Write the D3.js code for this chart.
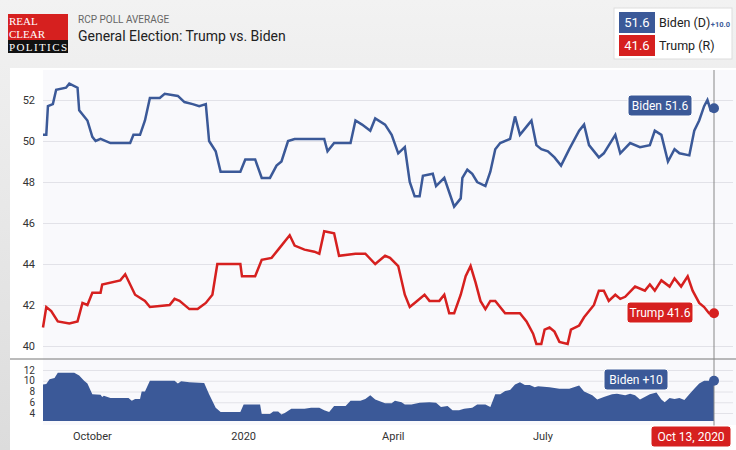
<!DOCTYPE html>
<html><head><meta charset="utf-8">
<script src="https://cdn.jsdelivr.net/npm/d3@7"></script>
<style>body{margin:0;font-family:Roboto,"Liberation Sans",sans-serif}</style>
</head><body><svg id="c" width="736" height="450"></svg>
<script>
// days after Sep 1 2019, value
var startDate = new Date(2019, 8, 1);
var endDate = new Date(2020, 9, 13);
var biden = [[0,50.3],[2,50.3],[3,51.7],[6,51.8],[8,52.5],[14,52.6],[16,52.8],[21,52.6],[22,51.5],[27,51],[30,50.2],[32,50],[35,50.1],[41,49.9],[53,49.9],[55,50.3],[59,50.3],[62,51],[65,52.1],[71,52.1],[74,52.3],[82,52.2],[86,51.9],[91,51.8],[95,51.7],[99,51.8],[101,50],[105,49.5],[108,48.5],[111,48.5],[120,48.5],[123,49.1],[129,49.1],[133,48.2],[138,48.2],[142,48.8],[145,49],[149,50],[153,50.1],[171,50.1],[173,49.5],[177,49.9],[187,49.9],[190,51],[194,50.8],[199,50.5],[202,51.1],[208,50.8],[212,50.3],[216,49.4],[220,49.7],[223,48],[226,47.3],[229,47.3],[231,48.3],[237,48.4],[239,47.8],[244,48.2],[247,47.5],[250,46.8],[254,47.2],[255,48.2],[258,48.6],[261,48.4],[264,48],[269,47.8],[272,48.5],[275,49.6],[278,49.9],[284,50.1],[287,51.2],[290,50.3],[295,50.8],[297,51],[300,49.8],[303,49.6],[307,49.5],[311,49.2],[315,48.8],[320,49.6],[326,50.5],[329,50.8],[332,49.8],[338,49.2],[341,49.4],[348,50.3],[351,49.4],[357,49.9],[363,49.7],[369,49.8],[372,50.5],[376,50.3],[380,49],[384,49.6],[387,49.4],[393,49.3],[396,50.5],[399,51],[402,51.7],[404,52],[406,51.5],[408,51.6]];
var trump = [[0,40.9],[2,41.9],[5,41.7],[9,41.2],[16,41.1],[21,41.2],[24,42.1],[27,42],[30,42.6],[35,42.6],[36,43],[47,43.2],[50,43.5],[56,42.5],[62,42.2],[65,41.9],[77,42],[80,42.3],[83,42.2],[89,41.8],[94,41.8],[99,42.1],[103,42.5],[106,44],[120,44],[121,43.4],[129,43.4],[133,44.2],[139,44.3],[144,44.8],[150,45.4],[153,44.9],[159,44.7],[165,44.6],[168,44.5],[171,45.6],[177,45.5],[180,44.4],[190,44.5],[196,44.5],[202,44],[208,44.4],[211,44.3],[216,43.9],[220,42.5],[223,41.9],[226,42.1],[232,42.5],[235,42.2],[241,42.2],[244,42.5],[247,41.6],[250,41.6],[254,42.5],[257,43.4],[260,43.9],[263,43.1],[266,42.2],[269,41.8],[272,42.2],[275,42.2],[281,41.6],[290,41.6],[294,41.2],[298,40.6],[300,40.1],[303,40.1],[305,40.8],[308,40.9],[311,40.7],[314,40.2],[319,40.1],[321,40.8],[326,41],[329,41.4],[335,42],[338,42.7],[341,42.7],[344,42.2],[348,42.5],[351,42.3],[354,42.4],[360,42.9],[366,42.7],[369,43],[372,42.7],[376,43.2],[381,42.9],[384,43.3],[388,42.9],[392,43.4],[395,42.7],[399,42.1],[402,41.9],[405,41.6],[408,41.6]];
var spread = [[0,9.3],[2,9.4],[4,10.3],[7,10.5],[9,11.5],[19,11.5],[22,11],[25,10],[27,9.5],[30,7.5],[35,7.4],[36,7],[37,7.2],[41,6.8],[52,6.8],[54,6.3],[56,6.6],[59,6.6],[60,8],[62,8],[65,10],[80,10],[82,9.5],[84,9.9],[89,9.7],[98,9.6],[101,7.5],[105,5],[108,4.2],[120,4.2],[122,5.6],[132,5.6],[133,3.8],[138,3.8],[140,4.3],[143,4.3],[145,3.7],[147,4],[151,4.8],[159,4.8],[163,5],[168,5],[171,4.5],[174,4.2],[177,5.3],[184,5.3],[187,6.3],[193,6.3],[196,6.6],[199,7.3],[202,6.5],[208,5.8],[212,5.8],[214,6.3],[218,6],[220,5.6],[224,5.6],[229,5.9],[235,6],[239,5.9],[242,5.1],[246,5.3],[249,4.5],[253,4.5],[256,4.8],[261,5],[264,5.6],[269,5.6],[272,5.1],[275,7.5],[278,7.5],[281,8.1],[284,8.3],[287,9.3],[290,9.7],[293,9.2],[296,9.2],[299,8.8],[301,9],[308,8.8],[314,8.5],[320,8.5],[326,9.1],[329,8],[334,7.3],[337,6.5],[341,7],[346,7.5],[349,7.6],[354,7.3],[357,7.6],[360,7.3],[363,6.5],[369,7.5],[373,7.8],[376,6.5],[378,6],[381,6.8],[384,6.6],[387,6.8],[390,6.4],[393,7.5],[396,8.5],[399,9.5],[402,10],[405,10],[408,10]];
var topTicks = [40, 42, 44, 46, 48, 50, 52];
var lowTicks = [4, 6, 8, 10, 12];
var monthTicks = [[new Date(2019,9,1),"October"],[new Date(2020,0,1),"2020"],[new Date(2020,3,1),"April"],[new Date(2020,6,1),"July"]];

var BLUE = "#3b5998", RED = "#d6201f";
var svg = d3.select("#c");
var day = d => d3.timeDay.offset(startDate, d);

var defs = svg.append("defs");
var g = defs.append("linearGradient").attr("id","bg").attr("x1",0).attr("x2",0).attr("y1",0).attr("y2",1);
g.append("stop").attr("offset",0).attr("stop-color","#f2f2f2");
g.append("stop").attr("offset",1).attr("stop-color","#dcdcdc");
svg.append("rect").attr("width",736).attr("height",450).attr("fill","url(#bg)");
svg.append("rect").attr("x",10).attr("y",68).attr("width",726).attr("height",382).attr("fill","#fff");
svg.append("rect").attr("x",43).attr("y",70).attr("width",693).attr("height",355).attr("fill","#f9f9fc");

// logo
svg.append("rect").attr("x",8).attr("y",14).attr("width",60).attr("height",28).attr("fill",RED);
svg.append("rect").attr("x",8).attr("y",40).attr("width",60).attr("height",13).attr("fill","#111");
[["REAL",25],["CLEAR",37.5],["POLITICS",51]].forEach(t => svg.append("text").attr("x",9).attr("y",t[1])
  .attr("font-family","Liberation Serif,serif").attr("font-size",11).attr("fill","#fff").attr("textLength", t[0]=="POLITICS"?58:null).text(t[0]));

svg.append("text").attr("x",78).attr("y",23).attr("font-size",10).attr("fill","#666").text("RCP POLL AVERAGE");
svg.append("text").attr("x",78).attr("y",41).attr("font-size",14).attr("fill","#222").text("General Election: Trump vs. Biden");

// legend
svg.append("rect").attr("x",614).attr("y",8).attr("width",118).attr("height",51).attr("fill","#fff").attr("stroke","#ddd");
svg.append("rect").attr("x",619).attr("y",12).attr("width",36).attr("height",21).attr("fill",BLUE);
svg.append("rect").attr("x",619).attr("y",35).attr("width",36).attr("height",21).attr("fill",RED);
svg.append("text").attr("x",637).attr("y",27).attr("text-anchor","middle").attr("font-size",13).attr("fill","#fff").text(biden[biden.length-1][1].toFixed(1));
svg.append("text").attr("x",637).attr("y",50).attr("text-anchor","middle").attr("font-size",13).attr("fill","#fff").text(trump[trump.length-1][1].toFixed(1));
svg.append("text").attr("x",659).attr("y",27).attr("font-size",12.5).attr("fill","#222").text("Biden (D)");
svg.append("text").attr("x",730).attr("y",27).attr("text-anchor","end").attr("font-size",7.5).attr("font-weight","bold").attr("fill",BLUE).text("+10.0");
svg.append("text").attr("x",659).attr("y",50).attr("font-size",12.5).attr("fill","#222").text("Trump (R)");

var x = d3.scaleTime().domain([startDate, endDate]).range([43, 714]);
var y = d3.scaleLinear().domain([40, 52]).range([346, 100]);
var y2 = d3.scaleLinear().domain([4, 12]).range([413, 370]);

var gridTop = svg.append("g").attr("transform","translate(43,0)")
  .call(d3.axisLeft(y).tickValues(topTicks).tickSize(-690).tickFormat(d3.format("d")));
var gridLow = svg.append("g").attr("transform","translate(43,0)")
  .call(d3.axisLeft(y2).tickValues(lowTicks).tickSize(-690).tickFormat(d3.format("d")));
[gridTop, gridLow].forEach((a, i) => {
  a.select(".domain").remove();
  a.selectAll(".tick line").attr("stroke","#e2e2e8");
  a.selectAll(".tick text").attr("x",-8).attr("font-size", i ? 10 : 11).attr("fill","#333").attr("font-family","Roboto,sans-serif");
});
svg.append("line").attr("x1",10).attr("x2",736).attr("y1",359).attr("y2",359).attr("stroke","#777");

svg.append("path").datum(spread).attr("fill",BLUE)
  .attr("d", d3.area().x(d => x(day(d[0]))).y0(421).y1(d => y2(d[1])));

var line = yy => d3.line().x(d => x(day(d[0]))).y(d => yy(d[1]));
svg.append("path").datum(biden).attr("fill","none").attr("stroke",BLUE).attr("stroke-width",2.5).attr("d",line(y));
svg.append("path").datum(trump).attr("fill","none").attr("stroke",RED).attr("stroke-width",2.5).attr("d",line(y));

monthTicks.forEach(m => svg.append("text").attr("x",x(m[0])).attr("y",440).attr("text-anchor","middle")
  .attr("font-size",11).attr("fill","#333").text(m[1]));

var xe = x(endDate);
svg.append("line").attr("x1",xe).attr("x2",xe).attr("y1",70).attr("y2",426).attr("stroke","#888");

function tip(cx, cy, w, color, label, yv) {
  svg.append("rect").attr("x",cx).attr("y",cy).attr("width",w).attr("height",21).attr("rx",3).attr("fill",color).attr("stroke","#fff");
  svg.append("text").attr("x",cx+w/2).attr("y",cy+15).attr("text-anchor","middle").attr("font-size",12).attr("fill","#fff").text(label);
  if (yv != null) svg.append("circle").attr("cx",xe).attr("cy",yv).attr("r",5).attr("fill",color);
}
var bl = biden[biden.length-1][1], tl = trump[trump.length-1][1], sl = spread[spread.length-1][1];
tip(628, 95, 64, BLUE, "Biden " + bl, y(bl));
tip(627, 302, 66, RED, "Trump " + tl, y(tl));
tip(604, 369, 64, BLUE, "Biden +" + sl, y2(sl));
tip(651, 426, 80, RED, "Oct 13, 2020", null);
</script></body></html>
